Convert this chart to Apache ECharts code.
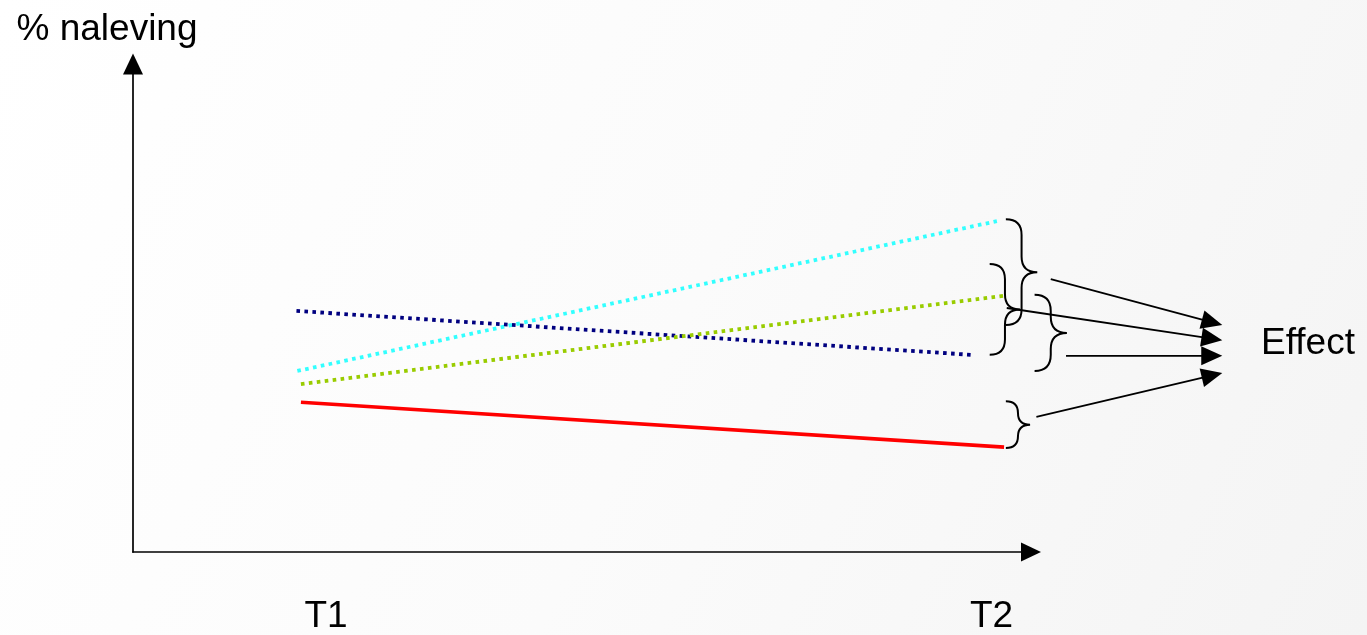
<!DOCTYPE html>
<html>
<head>
<meta charset="utf-8">
<script src="https://cdn.jsdelivr.net/npm/echarts@6/dist/echarts.min.js"></script>
<style>
  html, body { margin: 0; padding: 0; background: #fff; }
  #chart { width: 1367px; height: 635px; }
</style>
</head>
<body>
<div id="chart"></div>
<script>
// ---- data (chart units: x and y both 0..100 along the axes) ----
const tickValues = [21.5, 95.6];
const tickLabels = ['T1', 'T2'];
const yAxisName = '% naleving';
const effectLabel = 'Effect';

const cyanLine  = [[18.3, 37.1], [96.2, 67.8]];
const navyLine  = [[18.2, 49.4], [93.4, 40.4]];
const greenLine = [[18.7, 34.4], [97.0, 52.5]];
const redLine   = [[18.7, 30.7], [97.0, 21.5]];

// [x of open side, y top, y bottom, x of cusp]
const braces = [
  [97.2, 68.2, 46.5, 100.7],
  [95.4, 59.0, 40.4, 98.8],
  [100.4, 52.7, 37.1, 104.0],
  [97.2, 30.9, 21.3, 99.9]
];
// [x start, y start, x tip, y tip]
const effectArrows = [
  [102.2, 55.9, 121.3, 46.5],
  [97.3, 50.0, 121.3, 43.4],
  [103.9, 40.2, 121.3, 40.2],
  [100.6, 27.7, 121.3, 36.7]
];

const FONT = '"Liberation Sans", Arial, Helvetica, sans-serif';

const chart = echarts.init(document.getElementById('chart'), null, { renderer: 'canvas' });

function renderBrace(params, api) {
  const top = api.coord([api.value(0), api.value(1)]);
  const bot = api.coord([api.value(0), api.value(2)]);
  const cusp = api.coord([api.value(3), (api.value(1) + api.value(2)) / 2]);
  const x0 = top[0], xc = cusp[0], xv = (x0 + xc) / 2;
  const yT = top[1], yB = bot[1], yM = cusp[1];
  const r = Math.min((xc - x0) / 2, (yB - yT) / 4);
  const d = 'M' + x0 + ',' + yT +
    ' Q' + xv + ',' + yT + ' ' + xv + ',' + (yT + r) +
    ' L' + xv + ',' + (yM - r) +
    ' Q' + xv + ',' + yM + ' ' + xc + ',' + yM +
    ' Q' + xv + ',' + yM + ' ' + xv + ',' + (yM + r) +
    ' L' + xv + ',' + (yB - r) +
    ' Q' + xv + ',' + yB + ' ' + x0 + ',' + yB;
  return {
    type: 'path',
    shape: { pathData: d },
    style: { stroke: '#000', fill: 'none', lineWidth: 2 }
  };
}

function renderArrow(params, api) {
  const p1 = api.coord([api.value(0), api.value(1)]);
  const p2 = api.coord([api.value(2), api.value(3)]);
  const dx = p2[0] - p1[0], dy = p2[1] - p1[1];
  const len = Math.sqrt(dx * dx + dy * dy);
  const ux = dx / len, uy = dy / len;
  const hl = 21, hw = 9.5;
  const bx = p2[0] - ux * hl, by = p2[1] - uy * hl;
  return {
    type: 'group',
    children: [
      { type: 'line', shape: { x1: p1[0], y1: p1[1], x2: bx + ux * 2, y2: by + uy * 2 },
        style: { stroke: '#000', lineWidth: 1.8 } },
      { type: 'polygon', shape: { points: [[p2[0], p2[1]], [bx - uy * hw, by + ux * hw], [bx + uy * hw, by - ux * hw]] },
        style: { fill: '#000' } }
    ]
  };
}

const option = {
  animation: false,
  backgroundColor: new echarts.graphic.LinearGradient(0, 0, 1, 1, [
    { offset: 0, color: '#ffffff' },
    { offset: 0.5, color: '#fbfbfb' },
    { offset: 1, color: '#f4f4f4' }
  ]),
  title: {
    text: effectLabel,
    left: 1261,
    top: 325.5,
    padding: 0,
    textStyle: { fontFamily: FONT, fontSize: 37, fontWeight: 'normal', color: '#000' }
  },
  grid: { left: 133, top: 64, width: 898, height: 488, containLabel: false, outerBoundsMode: 'none' },
  xAxis: {
    type: 'value', min: 0, max: 100,
    axisLine: { show: true, symbol: ['none', 'triangle'], symbolSize: [19, 20],
      lineStyle: { color: '#000', width: 1.7 } },
    axisTick: { show: false },
    splitLine: { show: false },
    axisLabel: {
      show: true,
      customValues: tickValues,
      margin: 46.5,
      fontFamily: FONT, fontSize: 37, color: '#000',
      formatter: function (v) {
        const i = tickValues.indexOf(v);
        return i >= 0 ? tickLabels[i] : '';
      }
    }
  },
  yAxis: {
    type: 'value', min: 0, max: 100,
    name: yAxisName,
    nameLocation: 'end',
    nameGap: 15.5,
    nameTextStyle: { fontFamily: FONT, fontSize: 37, color: '#000', align: 'center', padding: [0, 52, 0, 0] },
    axisLine: { show: true, symbol: ['none', 'triangle'], symbolSize: [20, 21],
      lineStyle: { color: '#000', width: 1.7 } },
    axisTick: { show: false },
    splitLine: { show: false },
    axisLabel: { show: false }
  },
  series: [
    { type: 'line', data: cyanLine, symbol: 'none', lineStyle: { color: '#33ffff', width: 3.8, type: [3.6, 4.4], cap: 'butt' } },
    { type: 'line', data: navyLine, symbol: 'none', lineStyle: { color: '#000080', width: 3.8, type: [3.6, 4.4], cap: 'butt' } },
    { type: 'line', data: greenLine, symbol: 'none', lineStyle: { color: '#99cc00', width: 3.8, type: [3.6, 4.4], cap: 'butt' } },
    { type: 'line', data: redLine, symbol: 'none', lineStyle: { color: '#ff0000', width: 3.6, type: 'solid' } },
    { type: 'custom', data: braces, renderItem: renderBrace, clip: false, silent: true },
    { type: 'custom', data: effectArrows, renderItem: renderArrow, clip: false, silent: true }
  ]
};
chart.setOption(option);
</script>
</body>
</html>
